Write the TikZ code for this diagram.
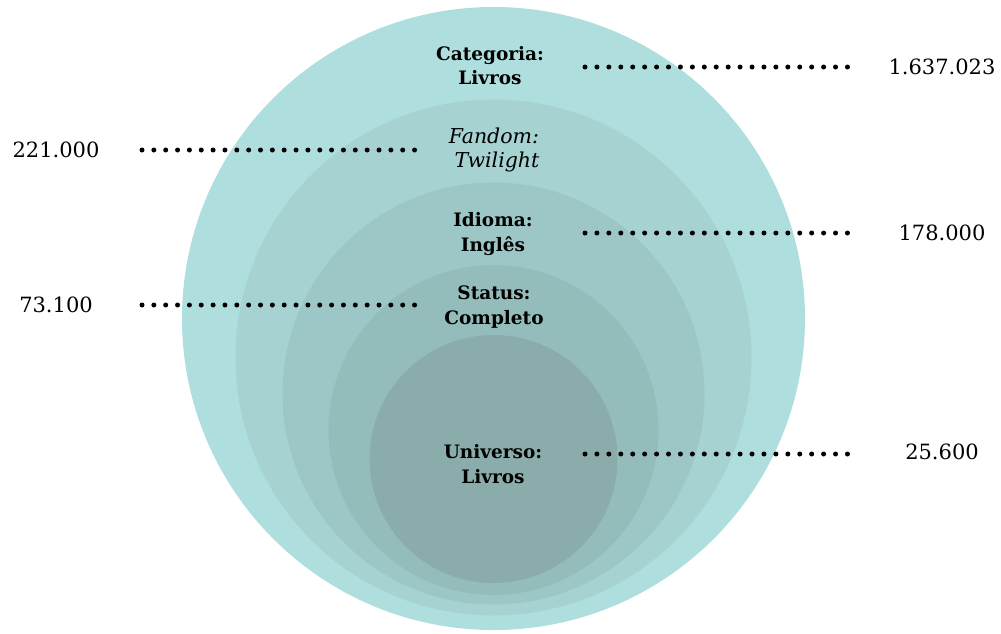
\documentclass[tikz,border=0pt]{standalone}
\usepackage{fontspec}
\setmainfont{DejaVu Serif}
\definecolor{cA}{HTML}{AEDFDE}
\definecolor{cB}{HTML}{A6D2D2}
\definecolor{cC}{HTML}{9DC7C7}
\definecolor{cD}{HTML}{94BCBB}
\definecolor{cE}{HTML}{8AADAC}
\tikzset{
  ring/.style={draw=none},
  lab/.style={align=center,font=\fontsize{18.5}{24.5}\selectfont\bfseries,inner sep=0pt},
  labit/.style={align=center,font=\fontsize{20.5}{24.5}\selectfont\itshape,inner sep=0pt},
  num/.style={font=\fontsize{21}{24}\selectfont,inner sep=0pt},
  dotline/.style={line width=5pt,line cap=round,dash pattern=on 0pt off #1,black}
}
\begin{document}
\begin{tikzpicture}[x=1pt,y=-1pt]
\useasboundingbox (0,0) rectangle (1001,633);
% circles
\fill[cA,ring] (493.5,318.5) circle (311.5);
\fill[cB,ring] (493.5,357.5) circle (258);
\fill[cC,ring] (493.5,393.5) circle (211);
\fill[cD,ring] (493.5,430) circle (165);
\fill[cE,ring] (493.5,459) circle (124);
% labels
\node[lab] (cat) at (490,65.5) {Categoria:\\Livros};
\node[labit] (fan) at (494,150) {Fandom:\\\hspace*{6pt}Twilight};
\node[lab] (idi) at (493,234) {Idioma:\\Inglês};
\node[lab] (sta) at (494,307) {Status:\\Completo};
\node[lab] (uni) at (493,464) {Universo:\\Livros};
% numbers
\node[num] (n1) at (942,67) {1.637.023};
\node[num] (n2) at (56,150) {221.000};
\node[num] (n3) at (942,233) {178.000};
\node[num] (n4) at (56,305) {73.100};
\node[num] (n5) at (942,452) {25.600};
% dotted connectors
\coordinate (a1) at (585,67);   \coordinate (b1) at (848,67);
\coordinate (a2) at (142,150);  \coordinate (b2) at (415,150);
\coordinate (a3) at (585,233);  \coordinate (b3) at (848,233);
\coordinate (a4) at (142,305);  \coordinate (b4) at (415,305);
\coordinate (a5) at (585,454);  \coordinate (b5) at (848,454);
\draw[dotline=11.93pt] (a1) -- (b1);
\draw[dotline=11.85pt] (a2) -- (b2);
\draw[dotline=11.93pt] (a3) -- (b3);
\draw[dotline=11.85pt] (a4) -- (b4);
\draw[dotline=11.93pt] (a5) -- (b5);
\end{tikzpicture}
\end{document}
